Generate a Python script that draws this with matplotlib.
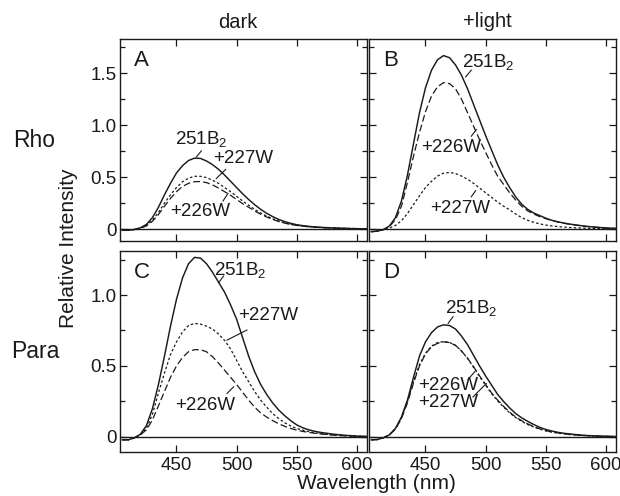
import matplotlib
matplotlib.use("Agg")
import matplotlib.pyplot as plt
from matplotlib.ticker import MultipleLocator, FixedLocator

plt.rcParams['font.family'] = ['Liberation Sans', 'DejaVu Sans']
plt.rcParams['mathtext.fontset'] = 'custom'
plt.rcParams['mathtext.rm'] = 'Liberation Sans'
plt.rcParams['mathtext.it'] = 'Liberation Sans'

# wavelength grid (nm)
wl = [405, 410, 415, 420, 425, 430, 435, 440, 445, 450, 455, 460, 465, 470,
      475, 480, 485, 490, 495, 500, 505, 510, 515, 520, 525, 530, 535, 540,
      545, 550, 555, 560, 565, 570, 575, 580, 585, 590, 595, 600, 605, 610]

# A: Rho, dark
a_251b2 = [-0.012, -0.012, -0.004, 0.012, 0.045, 0.11, 0.21, 0.33, 0.44, 0.54, 0.61, 0.66, 0.683, 0.68,
           0.655, 0.62, 0.575, 0.52, 0.46, 0.40, 0.34, 0.285, 0.235, 0.19, 0.152, 0.12, 0.093, 0.072,
           0.055, 0.042, 0.033, 0.026, 0.021, 0.017, 0.014, 0.011, 0.009, 0.007, 0.005, 0.004, 0.003, 0.002]
a_227w = [-0.012, -0.012, -0.004, 0.01, 0.035, 0.085, 0.16, 0.25, 0.33, 0.40, 0.455, 0.49, 0.508, 0.508,
          0.495, 0.47, 0.44, 0.40, 0.36, 0.315, 0.27, 0.23, 0.19, 0.155, 0.125, 0.10, 0.078, 0.06,
          0.046, 0.036, 0.029, 0.023, 0.019, 0.015, 0.012, 0.01, 0.008, 0.006, 0.005, 0.004, 0.003, 0.002]
a_226w = [-0.012, -0.012, -0.004, 0.008, 0.03, 0.075, 0.14, 0.22, 0.295, 0.36, 0.41, 0.44, 0.456, 0.458,
          0.447, 0.425, 0.395, 0.36, 0.325, 0.285, 0.245, 0.21, 0.175, 0.143, 0.116, 0.093, 0.073, 0.057,
          0.044, 0.035, 0.028, 0.022, 0.018, 0.014, 0.011, 0.009, 0.007, 0.006, 0.005, 0.004, 0.003, 0.002]

# B: Rho, +light
b_251b2 = [-0.025, -0.02, -0.005, 0.03, 0.11, 0.27, 0.52, 0.82, 1.12, 1.36, 1.53, 1.63, 1.67, 1.65,
           1.58, 1.48, 1.35, 1.20, 1.05, 0.90, 0.76, 0.62, 0.50, 0.40, 0.31, 0.24, 0.19, 0.155,
           0.13, 0.105, 0.085, 0.07, 0.058, 0.048, 0.04, 0.032, 0.025, 0.02, 0.015, 0.011, 0.008, 0.006]
b_226w = [-0.025, -0.02, -0.005, 0.025, 0.09, 0.22, 0.45, 0.70, 0.93, 1.13, 1.28, 1.37, 1.41, 1.40,
          1.35, 1.25, 1.12, 0.99, 0.86, 0.74, 0.62, 0.51, 0.43, 0.35, 0.28, 0.22, 0.175, 0.145,
          0.12, 0.10, 0.082, 0.068, 0.056, 0.046, 0.038, 0.03, 0.024, 0.019, 0.014, 0.01, 0.007, 0.005]
b_227w = [-0.025, -0.02, -0.006, 0.01, 0.035, 0.08, 0.15, 0.235, 0.32, 0.40, 0.46, 0.51, 0.538, 0.545,
          0.535, 0.51, 0.48, 0.44, 0.395, 0.35, 0.305, 0.26, 0.22, 0.185, 0.145, 0.11, 0.085, 0.065,
          0.05, 0.038, 0.03, 0.024, 0.019, 0.015, 0.012, 0.01, 0.008, 0.006, 0.005, 0.004, 0.003, 0.002]

# C: Para, dark
c_251b2 = [-0.02, -0.02, -0.006, 0.02, 0.08, 0.2, 0.37, 0.57, 0.78, 0.97, 1.12, 1.22, 1.265, 1.26,
           1.22, 1.16, 1.09, 1.02, 0.93, 0.83, 0.70, 0.57, 0.46, 0.37, 0.30, 0.24, 0.19, 0.15,
           0.115, 0.085, 0.065, 0.05, 0.04, 0.032, 0.026, 0.02, 0.016, 0.012, 0.009, 0.006, 0.004, 0.003]
c_227w = [-0.02, -0.02, -0.006, 0.015, 0.06, 0.16, 0.31, 0.45, 0.58, 0.67, 0.74, 0.785, 0.80, 0.795,
          0.78, 0.76, 0.725, 0.68, 0.62, 0.54, 0.46, 0.39, 0.32, 0.26, 0.21, 0.165, 0.13, 0.10,
          0.078, 0.06, 0.048, 0.038, 0.03, 0.024, 0.019, 0.015, 0.012, 0.009, 0.007, 0.005, 0.004, 0.003]
c_226w = [-0.02, -0.02, -0.006, 0.015, 0.05, 0.12, 0.22, 0.32, 0.42, 0.50, 0.56, 0.60, 0.615, 0.615,
          0.60, 0.565, 0.52, 0.47, 0.42, 0.37, 0.315, 0.26, 0.21, 0.17, 0.14, 0.115, 0.093, 0.075,
          0.06, 0.048, 0.039, 0.032, 0.026, 0.021, 0.017, 0.013, 0.01, 0.008, 0.006, 0.005, 0.004, 0.003]

# D: Para, +light
d_251b2 = [-0.02, -0.018, -0.006, 0.015, 0.06, 0.14, 0.26, 0.42, 0.57, 0.67, 0.735, 0.775, 0.79, 0.785,
           0.76, 0.71, 0.65, 0.575, 0.50, 0.43, 0.365, 0.30, 0.25, 0.205, 0.165, 0.135, 0.11, 0.088,
           0.068, 0.053, 0.042, 0.033, 0.026, 0.021, 0.017, 0.013, 0.01, 0.008, 0.006, 0.005, 0.004, 0.003]
d_226w = [-0.02, -0.018, -0.006, 0.015, 0.055, 0.13, 0.24, 0.38, 0.50, 0.585, 0.635, 0.66, 0.67, 0.665,
          0.645, 0.605, 0.555, 0.495, 0.43, 0.37, 0.31, 0.26, 0.215, 0.175, 0.14, 0.115, 0.092, 0.073,
          0.057, 0.045, 0.036, 0.029, 0.023, 0.018, 0.014, 0.011, 0.009, 0.007, 0.005, 0.004, 0.003, 0.002]
d_227w = [-0.02, -0.018, -0.006, 0.016, 0.058, 0.135, 0.25, 0.39, 0.51, 0.59, 0.64, 0.665, 0.672, 0.666,
          0.645, 0.605, 0.553, 0.49, 0.425, 0.365, 0.305, 0.255, 0.21, 0.17, 0.137, 0.11, 0.088, 0.07,
          0.055, 0.043, 0.034, 0.027, 0.022, 0.017, 0.013, 0.01, 0.008, 0.006, 0.005, 0.004, 0.003, 0.002]

B2 = r'251B$_\mathregular{2}$'
# panel: (solid, dashed(226W), dotted(227W), labels[(text, text xy, line start, line end)])
panels = {
    'A': (a_251b2, a_226w, a_227w,
          [(B2, (470.7, 0.87), (470.7, 0.753), (466.6, 0.695)),
           ('+227W', (505.2, 0.68), (490.9, 0.574), (483.1, 0.487)),
           ('+226W', (469.3, 0.167), (488.7, 0.27), (492.8, 0.343))]),
    'B': (b_251b2, b_226w, b_227w,
          [(B2, (502, 1.61), (488.1, 1.53), (483.4, 1.465)),
           ('+226W', (471.5, 0.785), (488.1, 0.894), (492.3, 0.958)),
           ('+227W', (478.5, 0.199), (488.1, 0.311), (491.7, 0.369))]),
    'C': (c_251b2, c_226w, c_227w,
          [(B2, (503, 1.176), (489.2, 1.134), (485.1, 1.087)),
           ('+227W', (526.5, 0.859), (508.6, 0.753), (492.0, 0.682)),
           ('+226W', (474, 0.224), (492.0, 0.306), (497.5, 0.353))]),
    'D': (d_251b2, d_226w, d_227w,
          [(B2, (488.1, 0.906), (472.9, 0.847), (468.8, 0.80)),
           ('+226W', (468.8, 0.365), (485.4, 0.405), (490.9, 0.459)),
           ('+227W', (468.8, 0.24), (489.5, 0.282), (500.6, 0.376))]),
}

W, H = 620, 496
fig = plt.figure(figsize=(W / 100, H / 100), dpi=100)
ink = '#1a1a1a'

def px(x0, y0, x1, y1):
    return [x0 / W, 1 - y1 / H, (x1 - x0) / W, (y1 - y0) / H]

boxes = {'A': px(120, 39, 367, 241), 'B': px(369, 39, 616, 241),
         'C': px(120, 251, 367, 452), 'D': px(369, 251, 616, 452)}

for key, (solid, dashed, dotted, labels) in panels.items():
    ax = fig.add_axes(boxes[key])
    top = key in 'AB'
    ax.axhline(0, color=ink, lw=1.0)
    ax.plot(wl, solid, color=ink, lw=1.05, ls='-')
    ax.plot(wl, dashed, color=ink, lw=0.9, ls=(0, (5.5, 2.5)))
    ax.plot(wl, dotted, color=ink, lw=0.9, ls=(0, (2, 1.8)))
    for txt, xy, p0, p1 in labels:
        ax.text(xy[0], xy[1], txt, ha='center', va='center', fontsize=13.5, color=ink)
        ax.plot([p0[0], p1[0]], [p0[1], p1[1]], color=ink, lw=0.8)
    ax.text(0.088, 0.895, key, transform=ax.transAxes, ha='center', va='center',
            fontsize=16, color=ink)
    ax.set_xlim(403, 608.5)
    if top:
        ax.set_ylim(-0.115, 1.83)
        ax.yaxis.set_major_locator(FixedLocator([0, 0.5, 1.0, 1.5]))
    else:
        ax.set_ylim(-0.106, 1.31)
        ax.yaxis.set_major_locator(FixedLocator([0, 0.5, 1.0]))
    ax.yaxis.set_minor_locator(MultipleLocator(0.25))
    ax.xaxis.set_major_locator(FixedLocator([450, 500, 550, 600]))
    ax.tick_params(which='both', direction='in', top=True, right=True,
                   colors=ink, labelsize=13.5, width=0.9)
    ax.tick_params(which='major', length=5)
    ax.tick_params(which='minor', length=3.5)
    ax.tick_params(axis='y', pad=2.5)
    for s in ax.spines.values():
        s.set_color(ink)
        s.set_linewidth(1.0)
    if key in 'AC':
        ax.set_yticklabels(['0' if v == 0 else f'{v:.1f}' for v in ax.get_yticks()])
    else:
        ax.set_yticklabels([])
    if top:
        ax.set_xticklabels([])
    else:
        ax.set_xticklabels(['450', '500', '550', '600'])

fig.text(238 / W, 1 - 28 / H, 'dark', ha='center', va='baseline', fontsize=14.5, color=ink)
fig.text(487 / W, 1 - 27 / H, '+light', ha='center', va='baseline', fontsize=14.5, color=ink)
fig.text(34 / W, 1 - 147 / H, 'Rho', ha='center', va='baseline', fontsize=16.5, color=ink)
fig.text(35 / W, 1 - 358 / H, 'Para', ha='center', va='baseline', fontsize=16.5, color=ink)
fig.text(68 / W, 1 - 248 / H, 'Relative Intensity', rotation=90, ha='center', va='center',
         fontsize=15, color=ink)
fig.text(376 / W, 1 - 489 / H, 'Wavelength (nm)', ha='center', va='baseline',
         fontsize=15, color=ink)

fig.savefig('out.png', dpi=100)
